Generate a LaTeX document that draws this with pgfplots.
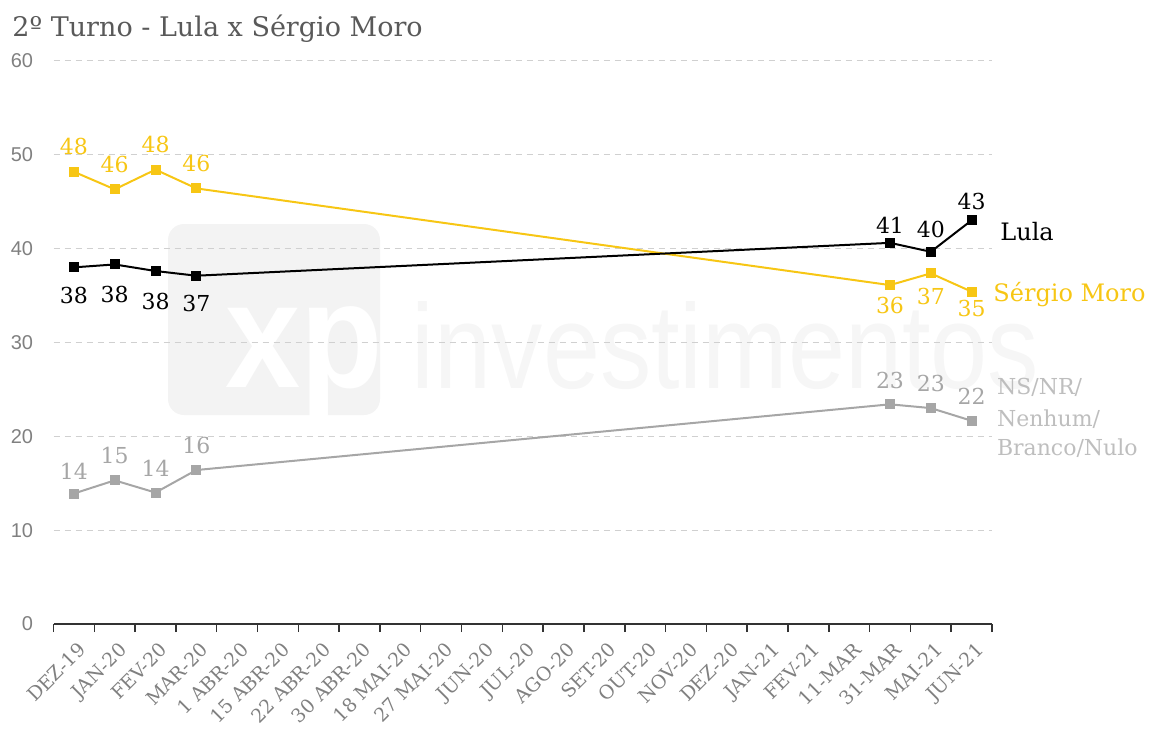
\documentclass[border=0pt]{standalone}
\usepackage{fontspec}
\setmainfont{DejaVu Serif}
\newfontfamily\sansf{Liberation Sans}
\usepackage{pgfplots}
\usepackage{pgfplotstable}
\pgfplotsset{compat=1.18}
\definecolor{moro}{RGB}{247,198,20}
\definecolor{nsgray}{RGB}{166,166,166}
\definecolor{nstext}{RGB}{190,190,190}
\definecolor{titlegray}{RGB}{89,89,89}
\definecolor{tickgray}{RGB}{128,128,128}
\definecolor{gridgray}{RGB}{208,208,208}
\definecolor{wm}{RGB}{243,243,243}
\definecolor{wmtext}{RGB}{246,246,246}

\pgfplotstableread{
x y lab dy
0 37.99 38 -14
1 38.3 38 -14.8
2 37.6 38 -15
3 37.1 37 -13.8
20 40.6 41 8.9
21 39.65 40 11
22 43.0 43 9.2
}\lulatab

\pgfplotstableread{
x y lab dy
0 48.17 48 12.5
1 46.3 46 12.2
2 48.4 48 12.7
3 46.4 46 12.5
20 36.1 36 -10
21 37.35 37 -11.7
22 35.4 35 -8.2
}\morotab

\pgfplotstableread{
x y lab dy
0 13.9 14 11.3
1 15.3 15 12.5
2 14.0 14 12.2
3 16.4 16 12.5
20 23.4 23 12
21 23.0 23 12.5
22 21.65 22 12
}\nstab

\begin{document}
\begin{tikzpicture}
% watermark
\fill[wm, rounded corners=8pt] (84pt,160.5pt) rectangle (190pt,256pt);
\node[anchor=base west, inner sep=0pt, text=white, font=\sansf\bfseries\fontsize{75}{75}\selectfont, xscale=0.9] at (112.5pt,174.5pt) {xp};
\node[anchor=base west, inner sep=0pt, text=wmtext, font=\sansf\fontsize{60}{60}\selectfont, xscale=0.855] at (205.8pt,174pt) {investimentos};

\begin{axis}[
  at={(26.75pt,56pt)}, anchor=south west,
  width=469.25pt, height=281.65pt, scale only axis,
  xmin=-0.5, xmax=22.5, ymin=0, ymax=60,
  xtick={0,...,22},
  xticklabels={DEZ-19,JAN-20,FEV-20,MAR-20,1 ABR-20,15 ABR-20,22 ABR-20,30 ABR-20,18 MAI-20,27 MAI-20,JUN-20,JUL-20,AGO-20,SET-20,OUT-20,NOV-20,DEZ-20,JAN-21,FEV-21,11-MAR,31-MAR,MAI-21,JUN-21},
  minor xtick={-0.5,0.5,...,22.5},
  ytick={0,10,...,60},
  axis x line*=bottom, axis y line*=left,
  y axis line style={draw=none},
  x axis line style={black!80, line width=0.75pt},
  tick align=outside,
  major tick length=0pt, minor tick length=4pt,
  every minor tick/.append style={black!80, line width=0.75pt},
  ytick style={draw=none},
  ymajorgrids, grid style={gridgray, line width=0.5pt, dash pattern=on 3pt off 2.5pt},
  /pgf/number format/assume math mode=true,
  yticklabel style={font=\sansf\fontsize{10}{12}\selectfont, text=tickgray, anchor=east, inner sep=0pt, xshift=-10pt},
  xticklabel style={font=\fontsize{9.5}{11}\selectfont, text=tickgray, xshift=1.5pt, yshift=-7pt, rotate=45, anchor=north east, inner sep=1pt},
  clip=false,
  lab/.style={
    point meta=explicit symbolic,
    nodes near coords,
    visualization depends on={\thisrow{dy}\as\dy},
    every node near coord/.append style={anchor=center, yshift=\dy*1pt, font=\fontsize{11}{13}\selectfont, inner sep=0pt, text=#1},
  },
]
\addplot[nsgray, line width=1pt, mark=square*, mark size=2pt, mark options={solid}, lab=nsgray] table[x=x,y=y,meta=lab]{\nstab};
\addplot[moro, line width=1pt, mark=square*, mark size=2pt, mark options={solid}, lab=moro] table[x=x,y=y,meta=lab]{\morotab};
\addplot[black, line width=1pt, mark=square*, mark size=2pt, mark options={solid}, lab=black] table[x=x,y=y,meta=lab]{\lulatab};
\end{axis}

\node[anchor=base west, inner sep=0pt, text=titlegray, font=\fontsize{13.5}{16}\selectfont] at (6pt,350pt) {2º Turno - Lula x Sérgio Moro};
\node[anchor=base west, inner sep=0pt, font=\fontsize{12}{14}\selectfont] at (500pt,247.6pt) {Lula};
\node[anchor=base west, inner sep=0pt, text=moro, font=\fontsize{12}{14}\selectfont] at (496.5pt,217.2pt) {Sérgio Moro};
\node[anchor=base west, inner sep=0pt, text=nstext, font=\fontsize{11}{13}\selectfont] at (498.3pt,170.8pt) {NS/NR/};
\node[anchor=base west, inner sep=0pt, text=nstext, font=\fontsize{11}{13}\selectfont] at (498.3pt,155pt) {Nenhum/};
\node[anchor=base west, inner sep=0pt, text=nstext, font=\fontsize{11}{13}\selectfont] at (498.3pt,140.5pt) {Branco/Nulo};

\pgfresetboundingbox
\path (0,0) rectangle (577pt,368pt);
\end{tikzpicture}
\end{document}
